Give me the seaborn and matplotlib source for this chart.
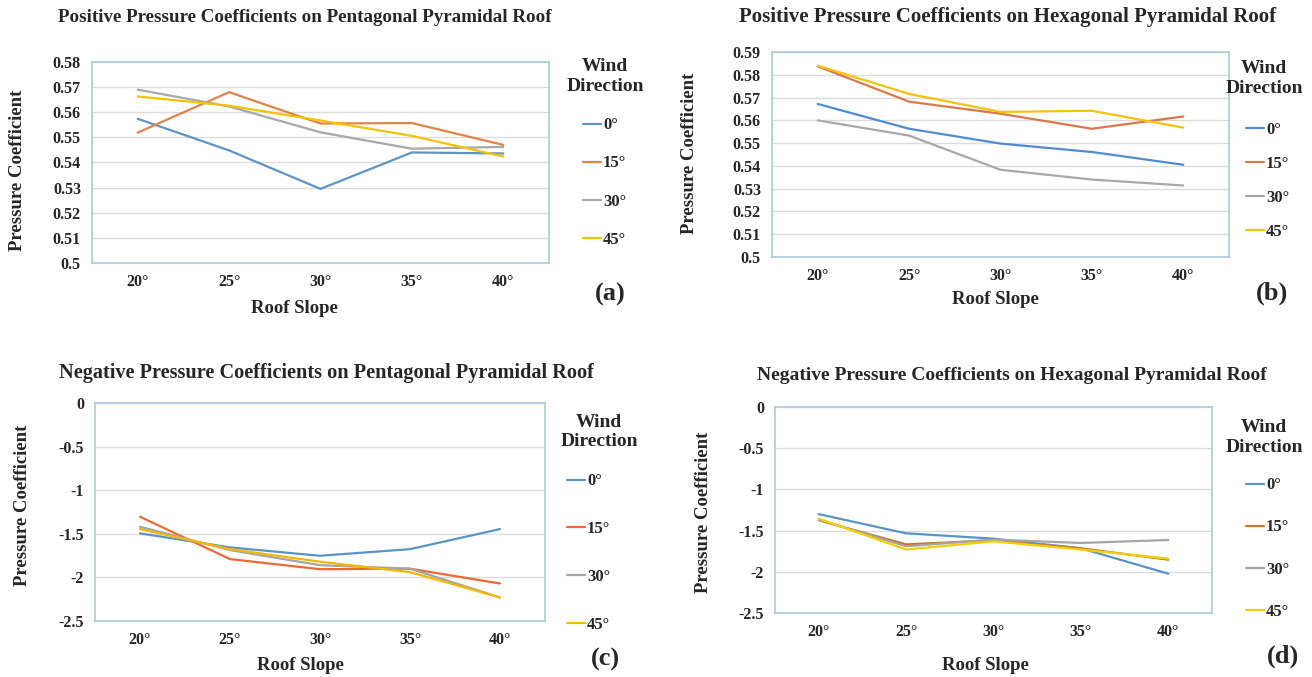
import matplotlib
matplotlib.use("Agg")
import matplotlib.pyplot as plt
import seaborn as sns
import pandas as pd

slopes = ["20°", "25°", "30°", "35°", "40°"]
directions = ["0°", "15°", "30°", "45°"]

# (a) Positive, pentagonal
a_0 = [0.5574, 0.5448, 0.5295, 0.5440, 0.5436]
a_15 = [0.5519, 0.5680, 0.5555, 0.5557, 0.5470]
a_30 = [0.5690, 0.5623, 0.5520, 0.5455, 0.5462]
a_45 = [0.5663, 0.5626, 0.5567, 0.5506, 0.5424]

# (b) Positive, hexagonal
b_0 = [0.5672, 0.5563, 0.5498, 0.5461, 0.5405]
b_15 = [0.5837, 0.5682, 0.5629, 0.5563, 0.5617]
b_30 = [0.5600, 0.5533, 0.5383, 0.5340, 0.5314]
b_45 = [0.5840, 0.5716, 0.5637, 0.5642, 0.5568]

# (c) Negative, pentagonal
c_0 = [-1.495, -1.656, -1.752, -1.676, -1.446]
c_15 = [-1.304, -1.790, -1.906, -1.900, -2.070]
c_30 = [-1.419, -1.687, -1.860, -1.900, -2.230]
c_45 = [-1.446, -1.676, -1.820, -1.940, -2.230]

# (d) Negative, hexagonal
d_0 = [-1.300, -1.533, -1.598, -1.715, -2.023]
d_15 = [-1.375, -1.667, -1.618, -1.715, -1.853]
d_30 = [-1.367, -1.690, -1.610, -1.650, -1.614]
d_45 = [-1.355, -1.730, -1.630, -1.730, -1.840]

titles = ["Positive Pressure Coefficients on Pentagonal Pyramidal Roof",
          "Positive Pressure Coefficients on Hexagonal Pyramidal Roof",
          "Negative Pressure Coefficients on Pentagonal Pyramidal Roof",
          "Negative Pressure Coefficients on Hexagonal Pyramidal Roof"]
panel_tags = ["(a)", "(b)", "(c)", "(d)"]
yticks_a = [0.5, 0.51, 0.52, 0.53, 0.54, 0.55, 0.56, 0.57, 0.58]
yticks_b = [0.5, 0.51, 0.52, 0.53, 0.54, 0.55, 0.56, 0.57, 0.58, 0.59]
yticks_neg = [-2.5, -2, -1.5, -1, -0.5, 0]

sns.set_theme(style="white")
plt.rcParams["font.family"] = ["Liberation Serif", "DejaVu Serif"]
plt.rcParams["font.weight"] = "bold"

fig = plt.figure(figsize=(13.12, 6.77), dpi=100)

W, H = 1312, 677
def axes_rect(l, r, t, b):
    return [l / W, 1 - b / H, (r - l) / W, (b - t) / H]

layouts = [
    dict(px=(92, 549, 62, 263), data=[a_0, a_15, a_30, a_45],
         ylim=(0.5, 0.58), yticks=yticks_a,
         pal=["#5E93C2", "#E0834A", "#A8A8A8", "#F3C300"],
         title_px=(305, 17), title_fs=13.7,
         tag_px=(610, 294), xl_px=(294, 308), yl_px=(17, 170),
         wd_px=(605, 76.5), leg_px=(583, 123), step=38.3),
    dict(px=(772, 1229, 52, 257), data=[b_0, b_15, b_30, b_45],
         ylim=(0.5, 0.59), yticks=yticks_b,
         pal=["#4F8BD0", "#D9794A", "#A8A8A8", "#F4C20D"],
         title_px=(1008, 17), title_fs=15.0,
         tag_px=(1272, 293), xl_px=(995, 299), yl_px=(690, 153),
         wd_px=(1264, 78.5), leg_px=(1246, 128), step=34.0),
    dict(px=(95, 545, 403, 621), data=[c_0, c_15, c_30, c_45],
         ylim=(-2.5, 0), yticks=yticks_neg,
         pal=["#5B93C6", "#E86A35", "#A5A5A5", "#F5B800"],
         title_px=(326, 373), title_fs=14.6,
         tag_px=(605, 659), xl_px=(300, 665), yl_px=(23, 505),
         wd_px=(599, 432), leg_px=(567, 479), step=48.0),
    dict(px=(775, 1212, 407, 613), data=[d_0, d_15, d_30, d_45],
         ylim=(-2.5, 0), yticks=yticks_neg,
         pal=["#5B93C6", "#C8782C", "#A5A5A5", "#F2D000"],
         title_px=(1012, 376), title_fs=14.0,
         tag_px=(1283, 656), xl_px=(985, 665), yl_px=(703, 512),
         wd_px=(1264, 437.5), leg_px=(1246, 483), step=42.3),
]

frame_color = "#A9CCD8"
grid_color = "#DCDCDC"
leg_fs = 12
row_px = leg_fs * 100 / 72

for i, L in enumerate(layouts):
    l, r, t, b = L["px"]
    ax = fig.add_axes(axes_rect(l, r, t, b))
    wpx, hpx = r - l, b - t
    def ac(x, y):
        return ((x - l) / wpx, 1 - (y - t) / hpx)

    rows = []
    for d, vals in zip(directions, L["data"]):
        for s, v in zip(slopes, vals):
            rows.append({"Roof Slope": s, "Pressure Coefficient": v, "Wind Direction": d})
    df = pd.DataFrame(rows)
    sns.lineplot(data=df, x="Roof Slope", y="Pressure Coefficient",
                 hue="Wind Direction", hue_order=directions,
                 palette=L["pal"], linewidth=1.6, ax=ax, sort=False)
    ax.set_xlim(-0.5, 4.5)
    ax.set_ylim(*L["ylim"])
    ax.set_yticks(L["yticks"])
    ax.set_yticklabels([("%g" % tk) for tk in L["yticks"]])
    ax.grid(axis="y", color=grid_color, linewidth=1.0)
    ax.set_axisbelow(True)
    for sp in ax.spines.values():
        sp.set_color(frame_color)
        sp.set_linewidth(1.2)
    ax.tick_params(axis="both", length=0, labelsize=11.5, pad=8)
    for lab in ax.get_xticklabels() + ax.get_yticklabels():
        lab.set_fontweight("bold")

    ax.set_xlabel("Roof Slope", fontsize=13.5, fontweight="bold")
    ax.set_ylabel("Pressure Coefficient", fontsize=13.5, fontweight="bold")
    ax.xaxis.set_label_coords(*ac(*L["xl_px"]))
    ax.xaxis.label.set_va("center")
    ax.yaxis.set_label_coords(*ac(*L["yl_px"]))
    ax.yaxis.label.set_va("center")

    ax.text(*ac(*L["title_px"]), titles[i], transform=ax.transAxes, ha="center",
            va="center", fontsize=L["title_fs"], fontweight="bold")
    ax.text(*ac(*L["tag_px"]), panel_tags[i], transform=ax.transAxes, ha="center",
            va="center", fontsize=19, fontweight="bold")
    ax.text(*ac(*L["wd_px"]), "Wind\nDirection", transform=ax.transAxes,
            ha="center", va="center", multialignment="center",
            fontsize=14, fontweight="bold", linespacing=1.2)

    handles, labels = ax.get_legend_handles_labels()
    ax.get_legend().remove()
    lx, ly = L["leg_px"]
    lsp = (L["step"] - 0.97 * row_px) / row_px
    leg = ax.legend(handles, labels, loc="upper left",
                    bbox_to_anchor=ac(lx, ly - 0.34 * row_px), frameon=False,
                    borderpad=0, borderaxespad=0,
                    handlelength=1.1, handletextpad=0.1, labelspacing=lsp,
                    prop={"family": "Liberation Serif", "weight": "bold", "size": leg_fs})

fig.savefig("out.png", dpi=100, facecolor="white")
